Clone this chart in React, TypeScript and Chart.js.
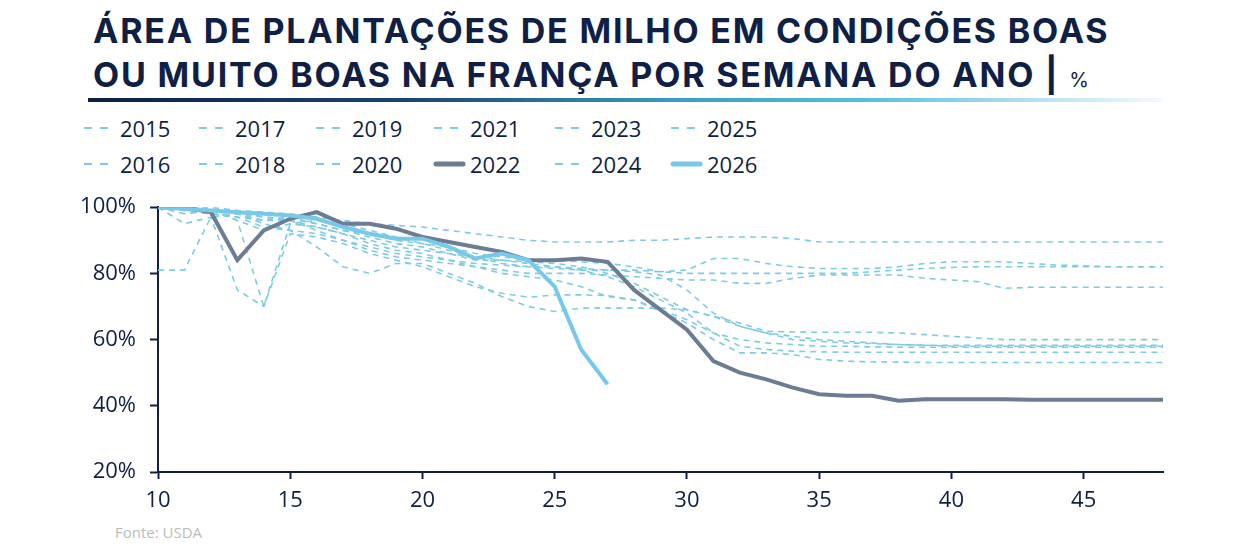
import { useEffect, useRef } from "react"
import { Chart, registerables } from "chart.js"

Chart.register(...registerables)

const weeks = [10, 11, 12, 13, 14, 15, 16, 17, 18, 19, 20, 21, 22, 23, 24, 25, 26, 27, 28, 29, 30, 31, 32, 33, 34, 35, 36, 37, 38, 39, 40, 41, 42, 43, 44, 45, 46, 47, 48]

const y2015 = [81, 81, 97, 98, 96, 97, 95, 93, 92, 90, 89, 88, 86, 85, 84, 84, 83.5, 83, 82, 80.5, 81, 84.5, 84.5, 83, 82, 81.5, 81.5, 81.5, 82, 83, 83.5, 83.5, 83.5, 83, 82.5, 82.3, 82, 82, 82]
const y2016 = [100, 95, 97, 75, 70, 92, 91, 89, 86, 84, 82, 79, 76, 74, 72.8, 73.5, 73.5, 73.3, 72, 69, 66, 62, 60, 59, 58.5, 58, 58, 57.8, 57.7, 57.7, 57.7, 57.7, 57.7, 57.7, 57.7, 57.7, 57.7, 57.7, 57.7]
const y2017 = [100, 100, 99.5, 99, 98.5, 98, 97, 96, 95, 94.5, 94, 93, 92, 91, 90, 89.5, 89.5, 89.5, 90, 90, 90.5, 91, 91, 91, 90.5, 89.5, 89.5, 89.5, 89.5, 89.5, 89.5, 89.5, 89.5, 89.5, 89.5, 89.5, 89.5, 89.5, 89.5]
const y2018 = [100, 99, 98, 97, 94, 93, 88, 82, 80, 83, 83, 80, 77, 73, 70, 68.5, 69.5, 69.5, 69.5, 69.5, 69, 67, 65, 62.5, 62.3, 62.2, 62.2, 62.2, 62, 61.5, 61, 60.5, 60, 60, 60, 60, 60, 60, 60]
const y2019 = [100, 98, 99, 96, 93, 95, 94, 92, 90, 88, 87, 86, 85, 83, 82, 82, 81.5, 81, 81, 80.5, 80, 80, 80, 80, 80, 80, 80, 80.5, 81, 81.5, 81.8, 82, 82, 82, 82, 82, 82, 82, 82]
const y2020 = [100, 100, 99, 98, 95, 93, 92, 90, 88, 86, 85, 84, 83, 82.5, 82, 81.5, 81, 81, 80.5, 79.5, 75, 68, 64, 62, 61, 60, 59.5, 59, 58.5, 58.3, 58, 58, 58, 58, 58, 58, 58, 58, 58]
const y2021 = [100, 100, 99.5, 96, 70, 95, 96, 95, 93, 91, 89, 87, 85, 84, 83, 82, 81, 79, 76, 72, 68, 62, 58, 57, 56.5, 56.3, 56.2, 56.2, 56.2, 56.2, 56.2, 56.2, 56.2, 56.2, 56.2, 56.2, 56.2, 56.2, 56.2]
const y2022 = [100, 100, 98.5, 84, 93, 96.5, 98.5, 95, 95, 93.5, 91, 89.5, 88, 86.5, 84, 84, 84.5, 83.5, 75, 69, 63, 53.5, 50, 48, 45.5, 43.5, 43, 43, 41.5, 42, 42, 42, 42, 41.8, 41.8, 41.8, 41.8, 41.8, 41.8]
const y2023 = [100, 100, 100, 99, 97, 96, 94, 92, 89, 87, 86, 84, 82, 80, 79, 78, 76, 73, 72, 68.5, 65, 60, 56, 56, 55.5, 54, 53.5, 53.3, 53.2, 53.1, 53.1, 53.1, 53.1, 53.1, 53.1, 53.1, 53.1, 53.1, 53.1]
const y2024 = [100, 99, 98, 97, 96, 96, 93, 90, 87, 85, 84, 83, 82, 81, 80, 80, 80, 79.5, 79, 78.5, 78, 78, 77, 77, 78.5, 79.5, 79.5, 79.5, 79.5, 78.5, 78, 77.5, 75.5, 75.8, 75.8, 75.8, 75.8, 75.8, 75.8]
const y2025 = [100, 100, 99, 98, 97, 96.5, 95, 93, 91, 89, 88, 86, 84, 84, 83.5, 83, 82, 80, 77, 73, 69, 67, 64, 62, 60, 59.5, 59, 58.8, 58.5, 58.3, 58.3, 58.3, 58.3, 58.3, 58.3, 58.3, 58.3, 58.3, 58.3]
const y2026 = [100, 99.5, 99, 98.5, 98, 97.5, 96.5, 94, 92, 90.5, 90.5, 88, 84.5, 86, 84, 76, 57, 46.5]

const yTicks = [20, 40, 60, 80, 100]
const xTicks = [10, 15, 20, 25, 30, 35, 40, 45]

// left edge of each legend column's text
const legendCols = [120, 235, 352, 470, 591, 707]

const NAVY = "#0f1f45"
const DASH = "#7fcbe6"
const GRAY = "#6c7c93"
const BLUE = "#78c8ea"

type Series = { year: string; values: number[]; color: string; dashed: boolean }

const series: Series[] = [
  { year: "2015", values: y2015, color: DASH, dashed: true },
  { year: "2016", values: y2016, color: DASH, dashed: true },
  { year: "2017", values: y2017, color: DASH, dashed: true },
  { year: "2018", values: y2018, color: DASH, dashed: true },
  { year: "2019", values: y2019, color: DASH, dashed: true },
  { year: "2020", values: y2020, color: DASH, dashed: true },
  { year: "2021", values: y2021, color: DASH, dashed: true },
  { year: "2022", values: y2022, color: GRAY, dashed: false },
  { year: "2023", values: y2023, color: DASH, dashed: true },
  { year: "2024", values: y2024, color: DASH, dashed: true },
  { year: "2025", values: y2025, color: DASH, dashed: true },
  { year: "2026", values: y2026, color: BLUE, dashed: false },
]

const FONT = "'Open Sans', 'DejaVu Sans', sans-serif"

function LegendItem({ s, left, top }: { s: Series; left: number; top: number }) {
  return (
    <div style={{ position: "absolute", left: left - 38, top, display: "flex", alignItems: "center" }}>
      <svg width={34} height={10} style={{ marginRight: 4 }}>
        <line
          x1={s.dashed ? 2 : 4}
          y1={5}
          x2={s.dashed ? 26 : 31}
          y2={5}
          stroke={s.color}
          strokeWidth={s.dashed ? 2 : 5}
          strokeLinecap={s.dashed ? "butt" : "round"}
          strokeDasharray={s.dashed ? "8 8" : undefined}
        />
      </svg>
      <span>{s.year}</span>
    </div>
  )
}

function CornChart() {
  const chartRef = useRef<HTMLCanvasElement>(null)
  const chartInstance = useRef<Chart | null>(null)

  useEffect(() => {
    if (!chartRef.current) return
    if (chartInstance.current) chartInstance.current.destroy()
    const ctx = chartRef.current.getContext("2d")
    if (!ctx) return

    chartInstance.current = new Chart(ctx, {
      type: "line",
      data: {
        datasets: series.map((s) => ({
          label: s.year,
          data: s.values.map((v, i) => ({ x: weeks[i], y: v })),
          borderColor: s.color,
          backgroundColor: s.color,
          borderWidth: s.dashed ? 1.6 : 4,
          borderDash: s.dashed ? [6, 5] : [],
          pointRadius: 0,
          tension: 0,
          fill: false,
          order: s.year === "2026" ? 0 : s.year === "2022" ? 1 : 2,
        })),
      },
      options: {
        animation: false,
        responsive: true,
        maintainAspectRatio: false,
        layout: { padding: { top: 17, right: 77, bottom: 0, left: 0 } },
        plugins: {
          legend: { display: false },
          tooltip: { enabled: false },
        },
        scales: {
          x: {
            type: "linear",
            min: 10,
            max: 48,
            afterBuildTicks: (axis) => {
              axis.ticks = xTicks.map((v) => ({ value: v }))
            },
            afterFit: (scale) => {
              scale.height = 44
            },
            grid: { drawOnChartArea: false, drawTicks: true, tickLength: 7, tickColor: NAVY, tickWidth: 2 },
            border: { display: true, color: NAVY, width: 2 },
            ticks: { color: NAVY, font: { family: FONT, size: 22 }, padding: 9, maxRotation: 0 },
          },
          y: {
            min: 20,
            max: 100,
            afterBuildTicks: (axis) => {
              axis.ticks = yTicks.map((v) => ({ value: v }))
            },
            afterFit: (scale) => {
              scale.width = 158
            },
            grid: { drawOnChartArea: false, drawTicks: true, tickLength: 8, tickColor: NAVY, tickWidth: 2 },
            border: { display: true, color: NAVY, width: 2 },
            ticks: {
              color: NAVY,
              font: { family: FONT, size: 22 },
              padding: 14,
              callback: (v) => `${v}%`,
            },
          },
        },
      },
    })

    return () => {
      if (chartInstance.current) {
        chartInstance.current.destroy()
        chartInstance.current = null
      }
    }
  }, [])

  return <canvas ref={chartRef} />
}

export default function App() {
  const row1 = series.filter((_, i) => i % 2 === 0)
  const row2 = series.filter((_, i) => i % 2 === 1)
  return (
    <div
      style={{
        position: "fixed",
        left: 0,
        top: 0,
        width: 1240,
        height: 553,
        background: "#ffffff",
        fontFamily: FONT,
        color: NAVY,
        overflow: "hidden",
      }}
    >
      <div
        style={{
          position: "absolute",
          left: 93,
          top: 9,
          fontFamily: "Inter, 'Open Sans', sans-serif",
          fontWeight: 700,
          fontSize: 34,
          lineHeight: "44px",
          letterSpacing: 1.8,
          whiteSpace: "nowrap",
        }}
      >
        <div>ÁREA DE PLANTAÇÕES DE MILHO EM CONDIÇÕES BOAS</div>
        <div>
          OU MUITO BOAS NA FRANÇA POR SEMANA DO ANO |{" "}
          <span style={{ fontSize: 20, fontWeight: 400, letterSpacing: 0 }}>%</span>
        </div>
      </div>
      <div
        style={{
          position: "absolute",
          left: 88,
          top: 98,
          width: 1075,
          height: 4,
          background:
            "linear-gradient(to right, #0c1f44 0%, #1a456f 30%, #3c9cc8 55%, #56bde0 72%, #bfe5f2 90%, #f3fafd 100%)",
        }}
      />
      <div style={{ position: "absolute", left: 0, top: 0, fontSize: 22, lineHeight: "30px" }}>
        {row1.map((s, i) => (
          <LegendItem key={s.year} s={s} left={legendCols[i]} top={113} />
        ))}
        {row2.map((s, i) => (
          <LegendItem key={s.year} s={s} left={legendCols[i]} top={149} />
        ))}
      </div>
      <div style={{ position: "absolute", left: 0, top: 180, width: 1240, height: 336 }}>
        <CornChart />
      </div>
      <div style={{ position: "absolute", left: 115, top: 522, fontSize: 15, color: "#bcbcbc" }}>Fonte: USDA</div>
    </div>
  )
}
